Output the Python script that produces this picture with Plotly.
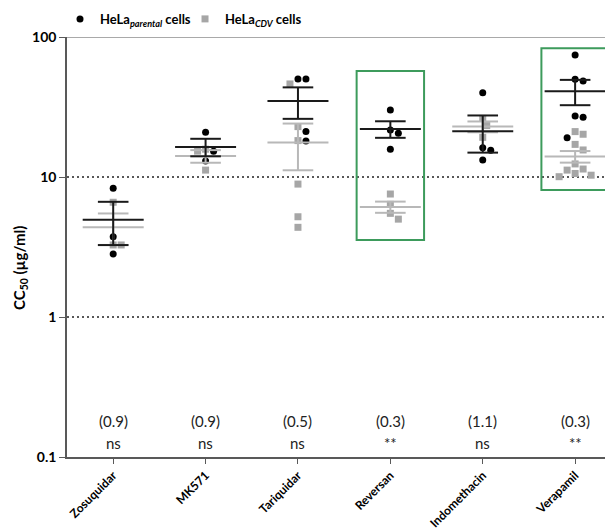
import math
import plotly.graph_objects as go

# ---------------- data ----------------
drugs = ["Zosuquidar", "MK571", "Tariquidar", "Reversan", "Indomethacin", "Verapamil"]

parental = [
    [8.3, 3.75, 2.82],
    [20.9, 15.3, 13.0],
    [50.1, 50.1, 21.1, 18.1],
    [30.1, 21.7, 20.5, 15.8],
    [40.0, 16.2, 15.5, 13.2],
    [74.4, 49.9, 48.5, 27.3, 26.7, 19.1],
]
cdv = [
    [6.6, 3.27, 3.27],
    [15.8, 15.3, 11.2],
    [46.2, 22.9, 18.2, 8.9, 5.2, 4.37],
    [7.56, 6.38, 5.5, 5.0],
    [26.2, 23.3, 19.2],
    [21.1, 20.2, 17.1, 15.6, 12.4, 11.4, 11.2, 10.6, 10.3, 10.05],
]
ratio_labels = ["(0.9)", "(0.9)", "(0.5)", "(0.3)", "(1.1)", "(0.3)"]
signif_labels = ["ns", "ns", "ns", "**", "ns", "**"]
highlighted = ["Reversan", "Verapamil"]
box_ranges = {"Reversan": (3.55, 57.2), "Verapamil": (8.07, 83.0)}

# ---------------- layout geometry ----------------
# the page body has an 8px margin, so the figure is 8px smaller on each side
W, H = 605, 521
ML, MR, MT, MB = 59, 0, 29, 72
XR = [-0.5, 5.41]
YR = [-1, 2]
plot_w = W - ML - MR
plot_h = H - MT - MB
px_per_cat = plot_w / (XR[1] - XR[0])
px_per_dec = plot_h / (YR[1] - YR[0])

FONT = "Lato"


def mean_sem(v):
    n = len(v)
    m = sum(v) / n
    sd = math.sqrt(sum((x - m) ** 2 for x in v) / (n - 1))
    return m, sd / math.sqrt(n)


def swarm(vals, d=8.0, step=4.0):
    """beeswarm offsets (category units) that keep markers from overlapping"""
    ys = [math.log10(v) * px_per_dec for v in vals]
    order = sorted(range(len(vals)), key=lambda i: -vals[i])
    cands = [0.0]
    for k in range(1, 30):
        cands += [k * step, -k * step]
    placed, offs = [], [0.0] * len(vals)
    for i in order:
        for c in cands:
            if all((c - px) ** 2 + (ys[i] - py) ** 2 >= d * d for px, py in placed):
                break
        offs[i] = c
        placed.append((c, ys[i]))
    return [o / px_per_cat for o in offs]


# swarm both cell lines of a drug together
px_x, px_y, cx_x, cx_y = [], [], [], []
for i in range(len(drugs)):
    allv = parental[i] + cdv[i]
    offs = swarm(allv)
    n_p = len(parental[i])
    px_x += [i + o for o in offs[:n_p]]
    px_y += parental[i]
    cx_x += [i + o for o in offs[n_p:]]
    cx_y += cdv[i]

MEAN_HW = 30.5 / px_per_cat
CAP_HW = 15.3 / px_per_cat


def summary_lines(series):
    lx, ly = [], []
    for i, vals in enumerate(series):
        m, s = mean_sem(vals)
        lx += [i - MEAN_HW, i + MEAN_HW, None,
               i, i, None,
               i - CAP_HW, i + CAP_HW, None,
               i - CAP_HW, i + CAP_HW, None]
        ly += [m, m, None,
               m - s, m + s, None,
               m + s, m + s, None,
               m - s, m - s, None]
    return lx, ly


fig = go.Figure()
fig.add_trace(go.Scatter(
    x=cx_x, y=cx_y, mode="markers", name="HeLa<sub><i>CDV</i></sub> cells",
    marker=dict(symbol="square", size=7, color="#a6a6a6", line=dict(width=0)),
    legendrank=2, cliponaxis=False))
fig.add_trace(go.Scatter(
    x=px_x, y=px_y, mode="markers", name="HeLa<sub><i>parental</i></sub> cells",
    marker=dict(symbol="circle", size=7, color="#000000", line=dict(width=0)),
    legendrank=1, cliponaxis=False))

lx_c, ly_c = summary_lines(cdv)
lx_p, ly_p = summary_lines(parental)
fig.add_trace(go.Scatter(x=lx_c, y=ly_c, mode="lines", showlegend=False,
                         line=dict(color="#b8b8b8", width=2), hoverinfo="skip"))
fig.add_trace(go.Scatter(x=lx_p, y=ly_p, mode="lines", showlegend=False,
                         line=dict(color="#1a1a1a", width=2), hoverinfo="skip"))

# dotted reference lines at 10 and 1, solid top line at 100
for v in (10, 1):
    fig.add_shape(type="line", xref="paper", x0=0, x1=1, yref="y",
                  y0=v, y1=v,
                  line=dict(color="#222222", width=1.5, dash="2px,3px"), layer="below")
fig.add_shape(type="line", xref="paper", x0=0, x1=1, yref="y",
              y0=100, y1=100, line=dict(color="#8c8c8c", width=1.5), layer="below")

# green highlight boxes
for name in highlighted:
    i = drugs.index(name)
    lo, hi = box_ranges[name]
    fig.add_shape(type="rect", xref="x", yref="y",
                  x0=i - 0.365, x1=i + 0.365, y0=lo, y1=hi,
                  line=dict(color="#3d9b5c", width=2), fillcolor="rgba(0,0,0,0)")

# ratio / significance annotations
for i, (r, s) in enumerate(zip(ratio_labels, signif_labels)):
    fig.add_annotation(x=i, y=0.0857, xref="x", yref="paper", text=r,
                       yanchor="middle", showarrow=False,
                       font=dict(family=FONT, size=15, color="#222"))
    fig.add_annotation(x=i, y=0.033, xref="x", yref="paper", text=s,
                       yanchor="middle", showarrow=False,
                       font=dict(family=FONT, size=15, color="#222"))

# y-axis title
fig.add_annotation(x=-0.0861, y=0.45, xref="paper", yref="paper",
                   xanchor="center", yanchor="middle",
                   text="CC<sub>50</sub> (µg/ml)", textangle=-90, showarrow=False,
                   font=dict(family=FONT, size=15, color="black", weight="bold"))

fig.update_layout(
    width=W, height=H,
    margin=dict(l=ML, r=MR, t=MT, b=MB, autoexpand=False),
    paper_bgcolor="white", plot_bgcolor="white",
    font=dict(family=FONT, color="black"),
    legend=dict(orientation="h", x=-0.0128, xanchor="left", y=1.043, yanchor="middle",
                font=dict(family=FONT, size=13, color="black", weight="bold"),
                bgcolor="rgba(0,0,0,0)", itemwidth=30, traceorder="normal",
                entrywidth=80, entrywidthmode="pixels"),
    xaxis=dict(range=XR, tickmode="array", tickvals=list(range(len(drugs))),
               ticktext=drugs, tickangle=-45, ticks="outside", ticklen=5,
               tickcolor="#595959", showgrid=False, zeroline=False,
               showline=True, linecolor="#595959", linewidth=1.5,
               tickfont=dict(family=FONT, size=12, color="black", weight="bold")),
    yaxis=dict(type="log", range=YR, tickmode="array",
               tickvals=[0.1, 1, 10, 100], ticktext=["0.1", "1", "10", "100"],
               ticks="outside", ticklen=6, tickcolor="#595959",
               showgrid=False, zeroline=False, showline=True,
               linecolor="#595959", linewidth=1.5,
               tickfont=dict(family=FONT, size=14, color="black", weight="bold")),
)

fig.write_html("out.html")
